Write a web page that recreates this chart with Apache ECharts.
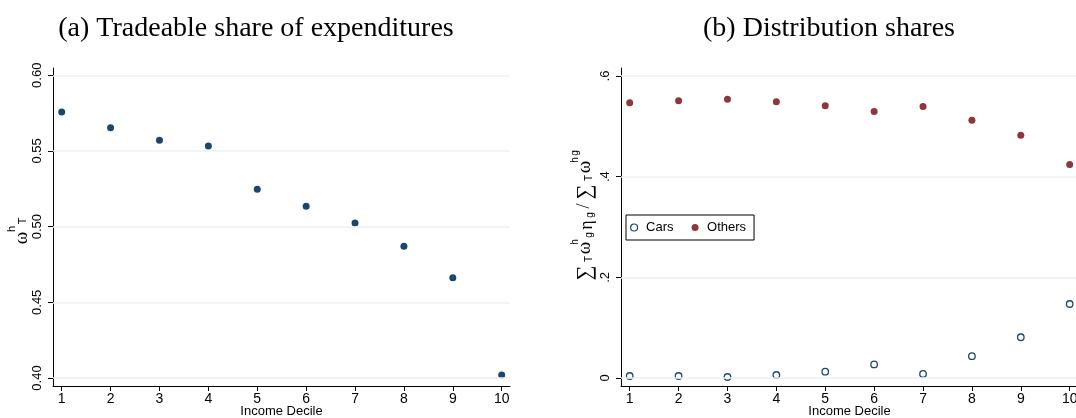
<!DOCTYPE html>
<html>
<head>
<meta charset="utf-8">
<script src="https://cdn.jsdelivr.net/npm/echarts@6/dist/echarts.min.js"></script>
<style>
  html, body { margin: 0; padding: 0; background: #fff; }
  #chart { width: 1076px; height: 418px; }
</style>
</head>
<body>
<div id="chart"></div>
<script>
// Income deciles and the shares plotted against them
const deciles = [1, 2, 3, 4, 5, 6, 7, 8, 9, 10];
const tradeableShare = [0.5757, 0.5653, 0.5570, 0.5532, 0.5247, 0.5134, 0.5024, 0.4870, 0.4662, 0.4020];
const carsShare = [0.004, 0.004, 0.002, 0.006, 0.0126, 0.027, 0.008, 0.0433, 0.081, 0.147];
const othersShare = [0.5468, 0.5508, 0.5536, 0.5488, 0.5408, 0.5296, 0.5396, 0.5123, 0.4824, 0.4240];

// Axis ticks and their labels
const xTicks = [1, 2, 3, 4, 5, 6, 7, 8, 9, 10];
const yTicksA = [0.40, 0.45, 0.50, 0.55, 0.60];
const yTicksB = [0, 0.2, 0.4, 0.6];
const yLabelsB = ['0', '.2', '.4', '.6'];

const NAVY = '#1a476f';
const MAROON = '#90353b';
const GRID_LINE = '#eaf0f1';
const SANS = '"Liberation Sans", Arial, sans-serif';
const SERIF = '"Liberation Serif", "Times New Roman", serif';

const pairs = (ys) => deciles.map((d, i) => [d, ys[i]]);

function xAxisFor(gridIndex) {
  return {
    gridIndex,
    type: 'value',
    min: 0.822,
    max: 10.17,
    name: 'Income Decile',
    nameLocation: 'middle',
    nameGap: 19,
    nameMoveOverlap: false,
    nameTextStyle: { fontFamily: SANS, fontSize: 13, color: '#000', verticalAlign: 'top' },
    axisLine: { show: true, onZero: false, lineStyle: { color: '#000', width: 1 } },
    axisTick: { show: true, length: 5, customValues: xTicks, lineStyle: { color: '#000' } },
    axisLabel: { customValues: xTicks, fontFamily: SANS, fontSize: 14, color: '#000', margin: 6 },
    splitLine: { show: false }
  };
}

function yAxisFor(gridIndex, min, max, ticks, fmt) {
  return {
    gridIndex,
    type: 'value',
    min, max,
    axisLine: { show: true, onZero: false, lineStyle: { color: '#000', width: 1 } },
    axisTick: { show: true, length: 5, customValues: ticks, lineStyle: { color: '#000' } },
    axisLabel: {
      customValues: ticks, formatter: fmt, rotate: 90,
      fontFamily: SANS, fontSize: 13, color: '#000', margin: 9
    },
    splitLine: { show: false }
  };
}

// Horizontal gridlines at each y tick
function gridLines(xi, yi, ticks) {
  return {
    type: 'line', xAxisIndex: xi, yAxisIndex: yi, data: [], z: 1, silent: true,
    markLine: {
      silent: true, symbol: ['none', 'none'], label: { show: false },
      lineStyle: { color: GRID_LINE, width: 1.5, type: 'solid' },
      data: ticks.map(v => ({ yAxis: v }))
    }
  };
}

// Rotated pieces of the y-axis titles (text reads bottom to top)
function rotText(text, x, y, size, family) {
  return {
    type: 'text', x, y, rotation: Math.PI / 2, silent: true,
    style: {
      text, fill: '#000', fontSize: size, fontFamily: family || SANS,
      textAlign: 'center', textVerticalAlign: 'middle'
    }
  };
}

const leftTitle = [
  rotText('\u03c9', 22, 238, 19, SERIF),
  rotText('h', 12, 229, 11),
  rotText('T', 23, 221, 11)
];

const rightTitle = [
  rotText('\u2211', 585, 273, 21, SERIF),
  rotText('T', 589, 259, 10),
  rotText('\u03c9', 585, 248, 19, SERIF),
  rotText('h', 575, 242, 10),
  rotText('g', 589, 235, 10),
  rotText('\u03b7', 587, 225, 18, SERIF),
  rotText('g', 590, 215, 10),
  rotText('/', 584, 206, 18, SERIF),
  rotText('\u2211', 585, 192, 21, SERIF),
  rotText('T', 589, 178, 10),
  rotText('\u03c9', 585, 167, 19, SERIF),
  rotText('h', 575, 160, 10),
  rotText('g', 575, 153, 10)
];

const chart = echarts.init(document.getElementById('chart'), null, { renderer: 'canvas' });

chart.setOption({
  backgroundColor: '#fff',
  animation: false,
  title: [
    {
      text: '(a) Tradeable share of expenditures', left: 251, top: 10, textAlign: 'center',
      textStyle: { fontFamily: SERIF, fontSize: 28, fontWeight: 'normal', color: '#000' }
    },
    {
      text: '(b) Distribution shares', left: 824, top: 10, textAlign: 'center',
      textStyle: { fontFamily: SERIF, fontSize: 28, fontWeight: 'normal', color: '#000' }
    }
  ],
  grid: [
    { left: 53, top: 68, width: 457, height: 318, outerBoundsMode: 'none', containLabel: false },
    { left: 621, top: 68, width: 457, height: 318, outerBoundsMode: 'none', containLabel: false }
  ],
  xAxis: [xAxisFor(0), xAxisFor(1)],
  yAxis: [
    yAxisFor(0, 0.3947, 0.6048, yTicksA, v => v.toFixed(2)),
    yAxisFor(1, -0.0159, 0.6159, yTicksB, v => yLabelsB[yTicksB.findIndex(t => Math.abs(t - v) < 1e-9)])
  ],
  legend: {
    data: [
      { name: 'Cars', itemStyle: { color: '#fff', borderColor: NAVY, borderWidth: 1.2 } },
      { name: 'Others' }
    ],
    left: 626, top: 215,
    orient: 'horizontal',
    itemWidth: 14, itemHeight: 7, itemGap: 18,
    padding: [6, 8, 6, 4],
    borderColor: '#000', borderWidth: 1, backgroundColor: '#fff',
    textStyle: { fontFamily: SANS, fontSize: 13, color: '#000' }
  },
  series: [
    gridLines(0, 0, yTicksA),
    gridLines(1, 1, yTicksB),
    {
      name: 'Tradeable share', type: 'scatter', xAxisIndex: 0, yAxisIndex: 0, z: 3,
      symbol: 'circle', symbolSize: 7,
      itemStyle: { color: NAVY, opacity: 1 },
      data: pairs(tradeableShare)
    },
    {
      name: 'Cars', type: 'scatter', xAxisIndex: 1, yAxisIndex: 1, z: 3,
      symbol: 'circle', symbolSize: 6.5,
      itemStyle: { color: '#fff', borderColor: NAVY, borderWidth: 1.3, opacity: 1 },
      data: pairs(carsShare)
    },
    {
      name: 'Others', type: 'scatter', xAxisIndex: 1, yAxisIndex: 1, z: 3,
      symbol: 'circle', symbolSize: 7,
      itemStyle: { color: MAROON, opacity: 1 },
      data: pairs(othersShare)
    }
  ],
  graphic: leftTitle.concat(rightTitle)
});
</script>
</body>
</html>
